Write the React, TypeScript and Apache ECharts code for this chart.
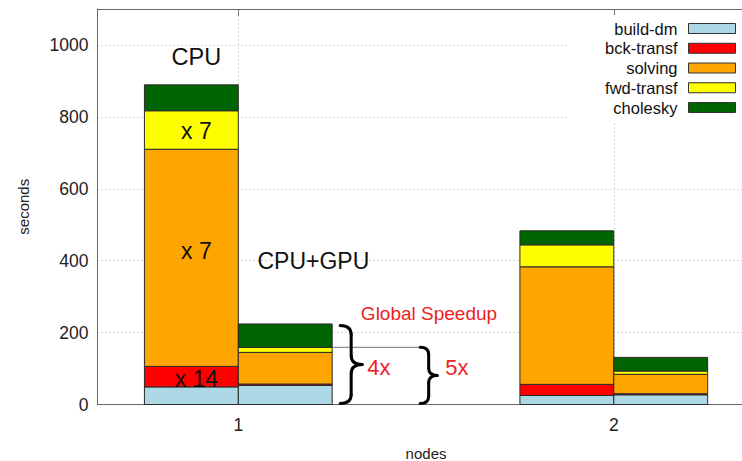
import { useEffect, useRef } from "react";
import * as echarts from "echarts";

// Cluster positions on the x axis (number of nodes)
const nodes = [1, 2];
const yTicks = [0, 200, 400, 600, 800, 1000];

// Phases, in stacking order (bottom to top)
const phaseNames = ["build-dm", "bck-transf", "solving", "fwd-transf", "cholesky"];
const phaseColors = ["#add8e6", "#ff0000", "#ffa500", "#ffff00", "#006400"];

// Seconds per phase, CPU-only runs (one value per node count)
const cpuBuildDm = [49, 25];
const cpuBckTransf = [57, 31];
const cpuSolving = [604, 327];
const cpuFwdTransf = [107, 61];
const cpuCholesky = [72, 39];

// Seconds per phase, CPU+GPU runs
const gpuBuildDm = [53, 27];
const gpuBckTransf = [4, 3];
const gpuSolving = [88, 54];
const gpuFwdTransf = [14, 9];
const gpuCholesky = [65, 38];

const cpuPhases = [cpuBuildDm, cpuBckTransf, cpuSolving, cpuFwdTransf, cpuCholesky];
const gpuPhases = [gpuBuildDm, gpuBckTransf, gpuSolving, gpuFwdTransf, gpuCholesky];

const FONT = "'Liberation Sans', Arial, Helvetica, sans-serif";
const BAR_HALF = 0.125; // half bar width, in x-axis units
const X_MIN = 0.625;
const X_MAX = 2.375;

// Cumulative [x, bottom, top] rectangles for one phase
function phaseRects(k: number) {
  const rows: number[][] = [];
  nodes.forEach((n, i) => {
    const runs: [number, number[][]][] = [
      [n - BAR_HALF, cpuPhases],
      [n + BAR_HALF, gpuPhases],
    ];
    runs.forEach(([x, phases]) => {
      let base = 0;
      for (let j = 0; j < k; j++) base += phases[j][i];
      rows.push([x, base, base + phases[k][i]]);
    });
  });
  return rows;
}

function sumUpTo(phases: number[][], i: number, count: number) {
  let s = 0;
  for (let j = 0; j < count; j++) s += phases[j][i];
  return s;
}

// Right-facing curly brace from yTop to yBot, starting at x0, w pixels wide
function brace(x0: number, yTop: number, yBot: number, w: number) {
  const mid = (yTop + yBot) / 2;
  const xm = x0 + w * 0.5;
  const r = Math.min(9, (yBot - yTop) * 0.13);
  const style = { stroke: "#000", lineWidth: 3, fill: "none", lineCap: "round" };
  return [
    { type: "bezierCurve", z: 100, shape: { x1: x0, y1: yTop, cpx1: xm, cpy1: yTop, x2: xm, y2: yTop + r }, style },
    { type: "line", z: 100, shape: { x1: xm, y1: yTop + r, x2: xm, y2: mid - r }, style },
    { type: "bezierCurve", z: 100, shape: { x1: xm, y1: mid - r, cpx1: xm, cpy1: mid, x2: x0 + w, y2: mid }, style },
    { type: "bezierCurve", z: 100, shape: { x1: x0 + w, y1: mid, cpx1: xm, cpy1: mid, x2: xm, y2: mid + r }, style },
    { type: "line", z: 100, shape: { x1: xm, y1: mid + r, x2: xm, y2: yBot - r }, style },
    { type: "bezierCurve", z: 100, shape: { x1: xm, y1: yBot - r, cpx1: xm, cpy1: yBot, x2: x0, y2: yBot }, style },
  ];
}

function txt(x: number, y: number, text: string, fontSize: number, fill: string, align = "center") {
  return {
    type: "text",
    z: 100,
    x,
    y,
    style: { text, fontSize, fontFamily: FONT, fill, align, verticalAlign: "middle" },
  };
}

export default function App() {
  const ref = useRef<HTMLDivElement>(null);

  useEffect(() => {
    const el = ref.current!;
    const chart = echarts.init(el, null, { renderer: "svg" });

    const series = phaseNames.map((name, k) => ({
      name,
      type: "custom",
      silent: true,
      itemStyle: { color: phaseColors[k] },
      encode: { x: 0, y: [1, 2] },
      data: phaseRects(k),
      renderItem: (_params: any, api: any) => {
        const x = api.value(0);
        const p0 = api.coord([x - BAR_HALF, api.value(2)]);
        const p1 = api.coord([x + BAR_HALF, api.value(1)]);
        return {
          type: "rect",
          shape: { x: p0[0], y: p0[1], width: p1[0] - p0[0], height: p1[1] - p0[1] },
          style: { fill: phaseColors[k], stroke: "#2a2a2a", lineWidth: 1 },
        };
      },
      ...(k === 0
        ? {
            markLine: {
              silent: true,
              z: 1,
              symbol: "none",
              label: { show: false },
              lineStyle: { color: "#b0b0b0", type: [1, 3], width: 1 },
              data: nodes.map((n) => ({ xAxis: n })),
            },
          }
        : {}),
    }));

    chart.setOption({
      animation: false,
      backgroundColor: "#fff",
      textStyle: { fontFamily: FONT },
      grid: {
        left: 97.5,
        top: 9,
        bottom: 56.5,
        right: -12.6,
        containLabel: false,
        outerBoundsMode: "none",
      },
      legend: {
        orient: "vertical",
        right: 0,
        top: 15,
        align: "right",
        icon: "rect",
        data: phaseNames,
        itemWidth: 47,
        itemHeight: 10,
        itemGap: 2.75,
        selectedMode: false,
        backgroundColor: "#fff",
        padding: [5, 6, 5, 36],
        itemStyle: { borderColor: "#333", borderWidth: 1 },
        textStyle: {
          fontSize: 16.5,
          lineHeight: 16,
          color: "#111",
          fontFamily: FONT,
          padding: [0, 6, 0, 0],
        },
      },
      xAxis: [
        {
          type: "value",
          min: X_MIN,
          max: X_MAX,
          position: "bottom",
          name: "nodes",
          nameLocation: "middle",
          nameGap: 41,
          nameTextStyle: { fontSize: 15, color: "#222", fontFamily: FONT },
          axisLine: { show: true, lineStyle: { color: "#666", width: 1 } },
          axisTick: { show: false },
          axisLabel: {
            customValues: nodes,
            fontSize: 17.5,
            color: "#222",
            margin: 11,
            formatter: (v: number) => String(v),
          },
          splitLine: { show: false },
        },
        {
          type: "value",
          min: X_MIN,
          max: X_MAX,
          position: "top",
          axisLine: { show: true, lineStyle: { color: "#666", width: 1 } },
          axisTick: { show: true, inside: true, length: 7, customValues: nodes, lineStyle: { color: "#666" } },
          axisLabel: { show: false },
          splitLine: { show: false },
        },
      ],
      yAxis: {
        type: "value",
        min: 0,
        max: 1100,
        interval: 200,
        name: "seconds",
        nameLocation: "middle",
        nameGap: 67,
        nameTextStyle: { fontSize: 15, color: "#222", fontFamily: FONT },
        axisLine: { show: true, lineStyle: { color: "#666", width: 1 } },
        axisTick: { show: false },
        axisLabel: {
          customValues: yTicks,
          fontSize: 17.5,
          color: "#222",
          margin: 9,
          formatter: (v: number) => String(v),
        },
        splitLine: { show: true, lineStyle: { color: "#b0b0b0", type: [1, 3], width: 1 } },
      },
      series,
    });

    const px = (x: number, y: number) =>
      chart.convertToPixel({ xAxisIndex: 0, yAxisIndex: 0 }, [x, y]) as number[];

    // Annotations on the 1-node bars
    const cpuX = nodes[0] - BAR_HALF;
    const cpuTotal = sumUpTo(cpuPhases, 0, 5);
    const gpuTotal = sumUpTo(gpuPhases, 0, 5);
    const gpuNoChol = sumUpTo(gpuPhases, 0, 4);
    const segMid = (count: number) => (sumUpTo(cpuPhases, 0, count) + sumUpTo(cpuPhases, 0, count + 1)) / 2;

    const cpuTop = px(cpuX, cpuTotal);
    const fwdMid = px(cpuX, segMid(3));
    const solMid = px(cpuX, segMid(2));
    const bckMid = px(cpuX, segMid(1));
    const gpuLabel = px(nodes[0] + 0.2, 400);

    const gpuRight = px(nodes[0] + 2 * BAR_HALF, 0)[0];
    const base = px(nodes[0], 0)[1];
    const gpuTopY = px(nodes[0], gpuTotal)[1];
    const noCholY = px(nodes[0], gpuNoChol)[1];

    const b1x = gpuRight + 8;
    const b1w = 22;
    const b2x = gpuRight + 88;
    const b2w = 17;

    const elements: any[] = [
      txt(cpuTop[0] + 5, cpuTop[1] - 28, "CPU", 23.5, "#111"),
      txt(gpuLabel[0], gpuLabel[1], "CPU+GPU", 23, "#111"),
      txt(fwdMid[0] + 5, fwdMid[1] + 1, "x 7", 23, "#111"),
      txt(solMid[0] + 5, solMid[1] - 7, "x 7", 23, "#111"),
      txt(bckMid[0] + 5, bckMid[1] + 2, "x 14", 23, "#111"),
      {
        type: "line",
        z: 99,
        shape: { x1: gpuRight, y1: noCholY, x2: b2x + 1, y2: noCholY },
        style: { stroke: "#777", lineWidth: 1 },
      },
      ...brace(b1x, gpuTopY + 1.5, base - 1, b1w),
      ...brace(b2x, noCholY, base - 1, b2w),
      txt(b1x + b1w + 5, 367, "4x", 22, "#ee2222", "left"),
      txt(b2x + b2w + 8, 367, "5x", 22, "#ee2222", "left"),
      txt(429, 313, "Global Speedup", 19, "#ee2222"),
    ];

    chart.setOption({ graphic: { elements } });

    return () => chart.dispose();
  }, []);

  return <div ref={ref} style={{ position: "fixed", left: 0, top: 0, width: 742, height: 461 }} />;
}
